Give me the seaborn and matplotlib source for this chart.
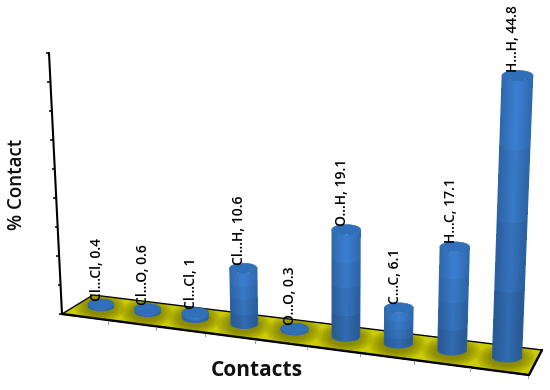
import numpy as np
import pandas as pd
import matplotlib
matplotlib.use("Agg")
import matplotlib.pyplot as plt
from matplotlib.patches import Polygon, Ellipse
import seaborn as sns

# ---- data ----
contacts = ["Cl...Cl", "Cl...O", "Cl...Cl", "Cl...H", "O...O", "O...H", "C...C", "H...C", "H...H"]
percent = [0.4, 0.6, 1, 10.6, 0.3, 19.1, 6.1, 17.1, 44.8]
value_ticks = [0, 5, 10, 15, 20, 25, 30, 35, 40, 45]

# ---- layout: the 3-D projection, in pixels of a 550x390 canvas ----
sns.set_theme(style="white")
plt.rcParams["font.family"] = ["Open Sans", "DejaVu Sans"]
LABEL_FONT = ["Open Sans", "DejaVu Sans"]

def base_x(i): return 101 + 46.0 * i + 0.594 * i ** 2
def base_y(i): return 306 + 5.6 * i + 0.1 * i ** 2
def unit_px(i): return 4.85 + 0.1 * i + 0.01 * i ** 2
def lean(x): return (x - 330) * 0.00021
def radius(i): return 12.8 + 0.25 * i

def project(i, value):
    h = value * unit_px(i)
    x = base_x(i) + lean(base_x(i)) * h
    return x, base_y(i) - h

AXIS_ORIGIN = (62, 314)
AXIS_TOP = (49, 53)
FLOOR = [(62, 314), (93, 295), (542, 350), (529, 375)]
BAND_SHADE = [0.84, 0.90, 0.95, 1.0]
EDGE, MID = "#2f69ad", "#3b7fd2"

fig = plt.figure(figsize=(5.5, 3.9), dpi=100)
ax = fig.add_axes([0, 0, 1, 1])

# ---- floor ----
floor = Polygon(FLOOR, closed=True, facecolor="#cccc06", edgecolor="black", linewidth=1.0, zorder=1)
ax.add_patch(floor)
sns.lineplot(x=[FLOOR[0][0], FLOOR[3][0], FLOOR[2][0]], y=[FLOOR[0][1], FLOOR[3][1], FLOOR[2][1]],
             sort=False, estimator=None, color="black", linewidth=1.7, ax=ax, zorder=2)

# ---- shadows on the floor ----
for i in range(len(percent)):
    for scale in np.linspace(2.0, 1.1, 7):
        e = Ellipse((base_x(i) - 1, base_y(i) + 1), 2 * radius(i) * scale, 15 * scale,
                    facecolor="#5e5e00", edgecolor="none", alpha=0.11, zorder=3)
        ax.add_patch(e)
        e.set_clip_path(floor)

# ---- value axis ----
frac = np.array(value_ticks) / max(value_ticks)
axis_x = AXIS_ORIGIN[0] + frac * (AXIS_TOP[0] - AXIS_ORIGIN[0])
axis_y = AXIS_ORIGIN[1] + frac * (AXIS_TOP[1] - AXIS_ORIGIN[1])
sns.lineplot(data=pd.DataFrame({"x": axis_x, "y": axis_y}), x="x", y="y", sort=False, estimator=None,
             color="black", linewidth=1.5, ax=ax, zorder=2)
for tx, ty in zip(axis_x, axis_y):
    ax.plot([tx - 3, tx], [ty, ty], color="black", lw=1.1, zorder=2, solid_capstyle="butt")

# ---- category ticks on the front edge ----
for k in range(1, len(percent) + 1):
    tx = 62 + 45.4 * k + 0.706 * k ** 2
    ty = 314 + (tx - 62) * (375 - 314) / (529 - 62)
    ax.plot([tx, tx], [ty + 1, ty + 3.5], color="#9a9a9a", lw=0.8, zorder=2)

# ---- cylinders ----
grad = np.array(sns.blend_palette([EDGE, MID, EDGE], 40))
for i, (name, val) in enumerate(zip(contacts, percent)):
    r0 = radius(i)
    r1 = r0 + 0.015 * val
    ry = 5.0
    x0, y0 = base_x(i), base_y(i)
    x1, y1 = project(i, val)
    nu, nv = 40, max(8, int(val * 2))
    u = np.linspace(-1, 1, nu + 1)
    v = np.linspace(0, 1, nv + 1)
    U, V = np.meshgrid(u, v)
    X = (x0 + (x1 - x0) * V) + (r0 + (r1 - r0) * V) * U
    Y = (y0 + (y1 - y0) * V) + ry * np.sqrt(1 - U ** 2)
    vc = (v[:-1] + v[1:]) / 2
    band = np.minimum((vc * 4).astype(int), 3)
    shade = np.array(BAND_SHADE)[band][:, None, None]
    rgb = np.clip(grad[None, :, :] * shade, 0, 1)
    ax.pcolormesh(X, Y, rgb, shading="flat", zorder=5 + i * 0.1, linewidth=0, rasterized=True)
    # smooth outline of the side wall
    ax.plot(X[0, :], Y[0, :], color=EDGE, lw=0.5, zorder=5.02 + i * 0.1)
    ax.plot([X[0, 0], X[-1, 0]], [Y[0, 0], Y[-1, 0]], color=EDGE, lw=0.5, zorder=5.02 + i * 0.1)
    ax.plot([X[0, -1], X[-1, -1]], [Y[0, -1], Y[-1, -1]], color=EDGE, lw=0.5, zorder=5.02 + i * 0.1)
    top = Ellipse((x1, y1), 2 * r1, 2 * ry, facecolor="#306fb9", edgecolor=EDGE, linewidth=0.4,
                  zorder=5.05 + i * 0.1)
    ax.add_patch(top)
    ax.text(x1 - 4, y1 - ry + 1.5, f"{name}, {val:g}", rotation=90, ha="center", va="bottom",
            fontsize=10, family=LABEL_FONT, color="black", fontweight="semibold", zorder=20)

ax.text(17, 184, "% Contact", rotation=90, ha="center", va="center", fontsize=13.5,
        fontweight="semibold", color="#111111")
ax.text(257, 371, "Contacts", ha="center", va="center", fontsize=15, fontweight="bold", color="#111111")

ax.set_xlim(0, 550)
ax.set_ylim(390, 0)
ax.set_xlabel("")
ax.set_ylabel("")
ax.axis("off")
if ax.get_legend():
    ax.get_legend().remove()
fig.savefig("out.png", dpi=100, facecolor="white")
